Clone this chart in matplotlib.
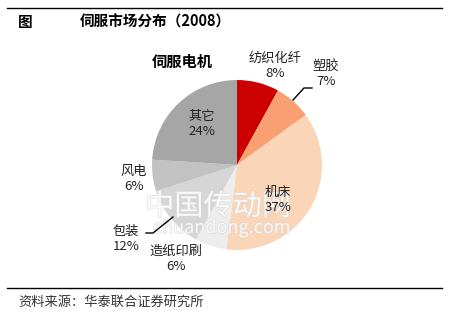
import numpy as np
import matplotlib.pyplot as plt
import matplotlib.patheffects as pe

plt.rcParams['font.family'] = ['Noto Sans CJK SC', 'DejaVu Sans']

# pie data, clockwise from 12 o'clock
labels = ['纺织化纤', '塑胶', '机床', '造纸印刷', '包装', '风电', '其它']
shares = [8, 7, 37, 6, 12, 6, 24]
colors = ['#CC0000', '#F9A073', '#FBD5B7', '#EDEDED', '#D6D6D6', '#C2C2C2', '#A6A6A6']

# label anchor points (pixels, image coords)
label_xy = [(275, 66), (326, 74), (278, 200), (176, 259), (126, 239), (134, 179), (202, 124)]

fig = plt.figure(figsize=(4.5, 3.14), dpi=100)
ax = fig.add_axes([0, 0, 1, 1])

cx, cy, r = 237, 165, 85
# y axis is flipped, so counterclock=True draws clockwise on screen
wedges, _ = ax.pie(shares, colors=colors, startangle=-90, counterclock=True,
                   center=(cx, cy), radius=r, frame=True,
                   wedgeprops=dict(linewidth=0))
ax.set_xlim(0, 450)
ax.set_ylim(314, 0)
ax.set_aspect('auto')
ax.axis('off')

# watermark (faint, under the labels)
wm = [pe.withStroke(linewidth=1.0, foreground='#D8D8D8')]
ax.text(218, 207, '中国传动网', ha='center', va='center', fontsize=21, color='white',
        alpha=0.7, path_effects=wm, zorder=3)
ax.text(222, 228, 'chuandong.com', ha='center', va='center', fontsize=13, color='white',
        alpha=0.7, path_effects=wm, zorder=3)

for lab, val, (x, y) in zip(labels, shares, label_xy):
    ax.text(x, y, f'{lab}\n{val}%', ha='center', va='center', fontsize=9.5,
            color='#222222', linespacing=1.25, zorder=5)

# leader lines
ax.plot([293, 304, 312], [100, 88, 88], color='black', lw=1)
ax.plot([173, 153, 146], [217, 233, 233], color='black', lw=1, zorder=4)

ax.text(182, 62, '伺服电机', ha='center', va='center', fontsize=11, fontweight='bold')

# header / footer
ax.plot([7, 442], [8, 8], color='black', lw=1)
ax.text(18, 22, '图', ha='left', va='center', fontsize=10.5, fontweight='bold')
ax.text(80, 22, '伺服市场分布（2008）', ha='left', va='center', fontsize=10.5, fontweight='bold')
ax.plot([7, 442], [288, 288], color='black', lw=1)
ax.text(18, 302, '资料来源：华泰联合证券研究所', ha='left', va='center', fontsize=9.5,
        color='#333333', style='italic')

fig.savefig('out.png', dpi=100)
